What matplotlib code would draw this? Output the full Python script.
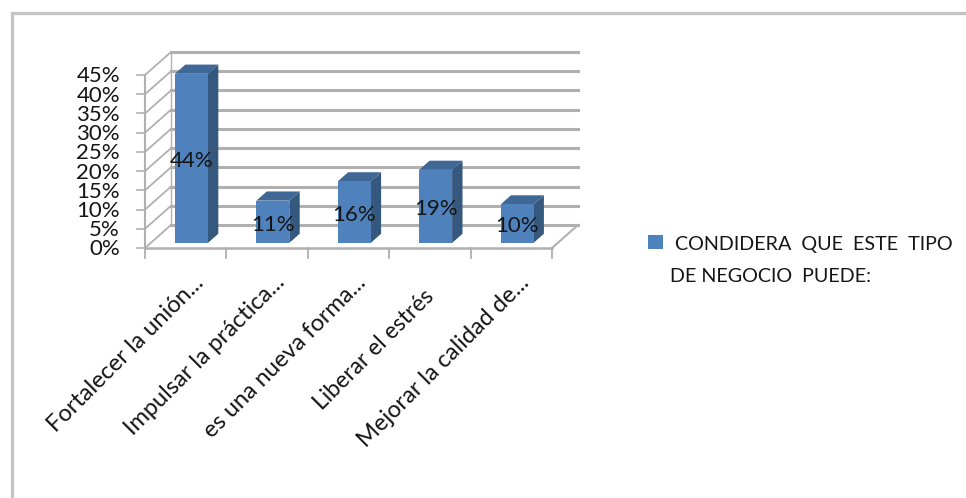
import matplotlib
matplotlib.use("Agg")
import matplotlib.pyplot as plt
from matplotlib.patches import Polygon, Rectangle

plt.rcParams["font.family"] = ["Lato", "DejaVu Sans"]

categories = [
    "Fortalecer la unión...",
    "Impulsar la práctica...",
    "es una nueva forma...",
    "Liberar el estrés",
    "Mejorar la calidad de...",
]
values = [44, 11, 16, 19, 10]
y_ticks = [0, 5, 10, 15, 20, 25, 30, 35, 40, 45]
legend_lines = ["CONDIDERA  QUE  ESTE  TIPO", "DE NEGOCIO  PUEDE:"]

W, H = 966, 498
BLUE = "#4f81bd"
SIDE = "#35587f"
TOP = "#3f6897"
GRID = "#b0b0b0"
INK = "#151515"

fig = plt.figure(figsize=(W / 100, H / 100), dpi=100)

# outer frame of the pasted chart
frame = fig.add_axes([0, 0, 1, 1])
frame.set_xlim(0, W)
frame.set_ylim(H, 0)
frame.axis("off")
frame.plot([11.5, 11.5, W], [H, 13, 13], color="#c4c4c4", lw=2.4, solid_joinstyle="miter")

# front plane of the fake 3d box
left, right, bottom, top = 145, 552, 248, 75
ax = fig.add_axes([left / W, 1 - bottom / H, (right - left) / W, (bottom - top) / H])
ax.set_xlim(0, len(categories))
ax.set_ylim(0, 45)
ax.axis("off")

depth_x = 26 / ((right - left) / len(categories))
depth_y = 23 / ((bottom - top) / 45)


def proj(x, y, d):
    return x + d * depth_x, y + d * depth_y


n = len(categories)
for t in y_ticks:
    ax.plot(*zip(proj(0, t, 1), proj(n, t, 1)), color=GRID, lw=2.2, clip_on=False, zorder=1)
    ax.plot(*zip(proj(0, t, 0), proj(0, t, 1)), color=GRID, lw=1.3, clip_on=False, zorder=1)
    ax.plot(*zip(proj(0, t, 0), proj(-0.1, t, 0)), color=GRID, lw=1.2, clip_on=False, zorder=1)
    ax.annotate(f"{t}%", (0, t), xytext=(-18, -1), textcoords="offset points",
                ha="right", va="center", fontsize=16, color=INK, annotation_clip=False)

# axes lines and floor
ax.plot(*zip(proj(0, 0, 0), proj(0, 45, 0)), color=GRID, lw=1.5, clip_on=False, zorder=1)
ax.plot(*zip(proj(0, 45, 1), proj(0, 0, 1)), color=GRID, lw=1, clip_on=False, zorder=1)
ax.plot(*zip(proj(0, 0, 0), proj(n, 0, 0)), color=GRID, lw=1.8, clip_on=False, zorder=1)
ax.plot(*zip(proj(n, 0, 0), proj(n, 0, 1)), color=GRID, lw=1.5, clip_on=False, zorder=1)
for i in range(n + 1):
    ax.plot([i, i], [0, -2.6], color=GRID, lw=1.3, clip_on=False, zorder=1)

bar_w = 0.405
d0, d1 = 0.22, 0.62
for i, (label, v) in enumerate(zip(categories, values)):
    x0 = i + 0.5 - bar_w / 2
    x1 = x0 + bar_w
    side = [proj(x1, 0, d0), proj(x1, 0, d1), proj(x1, v, d1), proj(x1, v, d0)]
    roof = [proj(x0, v, d0), proj(x0, v, d1), proj(x1, v, d1), proj(x1, v, d0)]
    ax.add_patch(Polygon(side, color=SIDE, lw=0, zorder=3, clip_on=False))
    ax.add_patch(Polygon(roof, color=TOP, lw=0, zorder=3, clip_on=False))
    fx, fy = proj(x0, 0, d0)
    ax.add_patch(Rectangle((fx, fy), bar_w, v, color=BLUE, lw=0, zorder=4, clip_on=False))
    ax.annotate(f"{v}%", (fx + bar_w / 2, fy + v / 2), xytext=(0, -2), textcoords="offset points",
                ha="center", va="center", fontsize=16, color=INK, zorder=5, annotation_clip=False)
    # the short label sits lower along its own diagonal in the original
    off = (-5, -27) if i == 3 else (5, -17)
    ax.annotate(label, (i + 0.5, 0), xytext=off, textcoords="offset points",
                rotation=45, rotation_mode="anchor", ha="right", va="top",
                fontsize=17 if i != 3 else 16.5, color=INK, annotation_clip=False)

# legend, hand placed like the original
frame.add_patch(Rectangle((648, 235), 15, 14, color=BLUE, lw=0))
frame.text(675, 244, legend_lines[0], ha="left", va="center", fontsize=14.2, color=INK)
frame.text(670, 276, legend_lines[1], ha="left", va="center", fontsize=14.2, color=INK)

fig.savefig("out.png", dpi=100)
